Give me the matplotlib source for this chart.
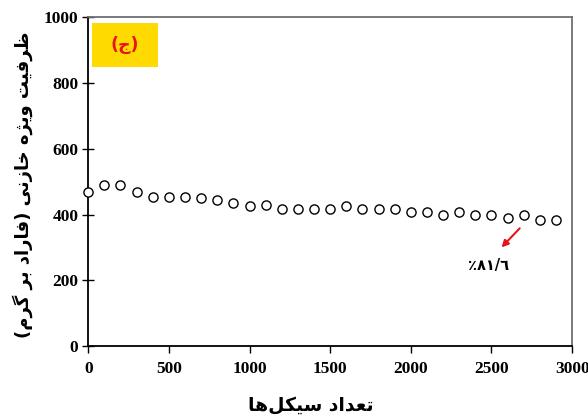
import matplotlib
matplotlib.use("Agg")
import matplotlib.pyplot as plt
from matplotlib.patches import Rectangle

# ---------------- data ----------------
cycles = [0, 100, 200, 300, 400, 500, 600, 700, 800, 900,
          1000, 1100, 1200, 1300, 1400, 1500, 1600, 1700, 1800, 1900,
          2000, 2100, 2200, 2300, 2400, 2500, 2600, 2700, 2800, 2900]
capacitance = [469, 491, 491, 468, 452, 452, 452, 451, 443, 435,
               426, 428, 418, 418, 418, 418, 425, 416, 416, 416,
               407, 408, 399, 407, 398, 398, 389, 398, 382, 382]
x_ticks = [0, 500, 1000, 1500, 2000, 2500, 3000]
y_ticks = [0, 200, 400, 600, 800, 1000]
ylabel_fa = "ظرفیت ویژه خازنی (فاراد بر گرم)"
xlabel_fa = "تعداد سیکل‌ها"
panel_fa = "(ج)"
retention_txt = "٪۸۱/٦"
arrow_tail = (2675, 358)
arrow_head = (2562, 300)
text_pos = (2482, 246)

# ---------------- simple Persian shaping ----------------
FORMS = {
    'ا': ('\uFE8D', '\uFE8E', None, None),
    'ب': ('\uFE8F', '\uFE90', '\uFE91', '\uFE92'),
    'ت': ('\uFE95', '\uFE96', '\uFE97', '\uFE98'),
    'ج': ('\uFE9D', '\uFE9E', '\uFE9F', '\uFEA0'),
    'خ': ('\uFEA5', '\uFEA6', '\uFEA7', '\uFEA8'),
    'د': ('\uFEA9', '\uFEAA', None, None),
    'ر': ('\uFEAD', '\uFEAE', None, None),
    'ز': ('\uFEAF', '\uFEB0', None, None),
    'س': ('\uFEB1', '\uFEB2', '\uFEB3', '\uFEB4'),
    'ظ': ('\uFEC5', '\uFEC6', '\uFEC7', '\uFEC8'),
    'ع': ('\uFEC9', '\uFECA', '\uFECB', '\uFECC'),
    'ف': ('\uFED1', '\uFED2', '\uFED3', '\uFED4'),
    'ل': ('\uFEDD', '\uFEDE', '\uFEDF', '\uFEE0'),
    'م': ('\uFEE1', '\uFEE2', '\uFEE3', '\uFEE4'),
    'ن': ('\uFEE5', '\uFEE6', '\uFEE7', '\uFEE8'),
    'ه': ('\uFEE9', '\uFEEA', '\uFEEB', '\uFEEC'),
    'و': ('\uFEED', '\uFEEE', None, None),
    'ژ': ('\uFB8A', '\uFB8B', None, None),
    'ک': ('\uFB8E', '\uFB8F', '\uFB90', '\uFB91'),
    'گ': ('\uFB92', '\uFB93', '\uFB94', '\uFB95'),
    'ی': ('\uFBFC', '\uFBFD', '\uFBFE', '\uFBFF'),
}


def shape(s):
    out = []
    n = len(s)
    for i, c in enumerate(s):
        if c not in FORMS:
            if c == '\u200c':
                continue
            out.append({'(': ')', ')': '('}.get(c, c))
            continue
        f = FORMS[c]
        prev = s[i - 1] if i > 0 else None
        nxt = s[i + 1] if i + 1 < n else None
        join_prev = prev in FORMS and FORMS[prev][2] is not None
        join_next = nxt in FORMS and f[2] is not None
        if join_prev and join_next:
            g = f[3]
        elif join_prev:
            g = f[1]
        elif join_next:
            g = f[2]
        else:
            g = f[0]
        out.append(g)
    return ''.join(reversed(out))


fa_font = ['DejaVu Sans']
tick_font = 'Liberation Serif'

fig = plt.figure(figsize=(5.88, 4.18), dpi=100)
ax = fig.add_axes([0.150, 0.172, 0.823, 0.787])

ax.plot(cycles, capacitance, linestyle='none', marker='o', markersize=6.6,
        markerfacecolor='white', markeredgecolor='black', markeredgewidth=1.0,
        clip_on=False, zorder=3)

ax.set_xlim(0, 3000)
ax.set_ylim(0, 1000)
ax.set_xticks(x_ticks)
ax.set_yticks(y_ticks)
ax.set_xticklabels([str(v) for v in x_ticks], fontfamily=tick_font,
                   fontweight='bold', fontsize=12.5)
ax.set_yticklabels([str(v) for v in y_ticks], fontfamily=tick_font,
                   fontweight='bold', fontsize=12.5)
ax.tick_params(axis='x', direction='out', length=5, width=1, pad=6)
ax.tick_params(axis='y', direction='inout', length=8, width=1, pad=3)
for side in ['left', 'bottom']:
    ax.spines[side].set_linewidth(1.3)
    ax.spines[side].set_color('black')
for side in ['top', 'right']:
    ax.spines[side].set_linewidth(1.3)
    ax.spines[side].set_color('#707070')

ax.set_ylabel(shape(ylabel_fa), fontfamily=fa_font, fontweight='bold',
              fontsize=13)
ax.yaxis.set_label_coords(-0.115, 0.49)
ax.set_xlabel(shape(xlabel_fa), fontfamily=fa_font, fontweight='bold',
              fontsize=13.5)
ax.xaxis.set_label_coords(0.46, -0.15)

ax.add_patch(Rectangle((0.008, 0.848), 0.136, 0.134, transform=ax.transAxes,
                       facecolor='#FFDA00', edgecolor='none', zorder=4))
ax.text(0.076, 0.915, shape(panel_fa), transform=ax.transAxes, color='#E8141C',
        fontfamily=fa_font, fontweight='bold', fontsize=12.5,
        ha='center', va='center', zorder=5)

ax.annotate('', xy=arrow_head, xytext=arrow_tail,
            arrowprops=dict(arrowstyle='-|>', color='#E8141C', lw=1.5,
                            mutation_scale=10, shrinkA=0, shrinkB=0))
ax.text(text_pos[0], text_pos[1], retention_txt, fontfamily=fa_font,
        fontweight='bold', fontsize=10.5, ha='center', va='center')

fig.savefig('out.png', dpi=100)
